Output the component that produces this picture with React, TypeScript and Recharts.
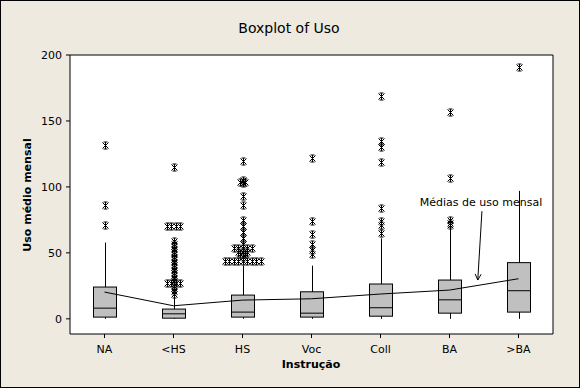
import React from 'react';
import { ComposedChart, Bar, Line, Scatter, XAxis, YAxis, ReferenceArea, ReferenceLine } from 'recharts';

const categories = ['NA', '<HS', 'HS', 'Voc', 'Coll', 'BA', '>BA'];
const whiskerLow = [0, 0, 0, 0, 0, 0, 0];
const q1 = [1.3, 0.5, 1.3, 1.3, 2, 4.3, 5.1];
const medians = [8.1, 3.8, 5.1, 4.3, 8.4, 14.4, 21.3];
const q3 = [24.1, 7.4, 18, 20.5, 26.4, 29.4, 42.6];
const whiskerHigh = [57.8, 16, 40.3, 40.3, 61, 69.4, 97];
const means = [20.3, 9.9, 14.2, 15.2, 18.8, 21.8, 30.4];

// outliers per category; repeated values are ties drawn side by side
const outliers = [
  [132, 86, 71],
  [115, 70, 70, 70, 70, 59, 57, 55, 53, 51, 49, 47, 45, 43, 41, 39, 37, 35, 33, 31, 29, 27, 27, 27, 27, 25, 23, 21, 19],
  [120, 105, 104, 104, 103, 93, 86, 75, 70, 66, 61, 57, 54, 54, 54, 54, 54, 51, 51, 51, 49, 49, 47, 44, 44, 44, 44, 44, 44, 44, 44, 44],
  [122, 74, 64, 57, 52, 49],
  [169, 135, 130, 119, 84, 74, 71, 65],
  [157, 107, 75, 73, 71],
  [191],
];

const yTicks = [0, 50, 100, 150, 200];
const annotationText = 'Médias de uso mensal';
const arrowFrom = { x: 5.47, y: 81.6 };
const arrowTo = { x: 5.41, y: 29.4 };

const rows = categories.map((cat, i) => ({
  cat,
  low: whiskerLow[i],
  q1: q1[i],
  med: medians[i],
  q3: q3[i],
  high: whiskerHigh[i],
  mean: means[i],
}));

const outlierPoints = outliers.flatMap((vals, i) =>
  vals.map((y, k) => {
    const count = vals.filter((v) => v === y).length;
    const before = vals.slice(0, k).filter((v) => v === y).length;
    return { x: i, y, tie: before - (count - 1) / 2 };
  })
);

const BoxShape = (props: any) => {
  const { x, y, width, height, payload } = props;
  const top = Math.min(y, y + height);
  const h = Math.abs(height);
  const { low, high } = payload;
  const pix = (v: number) => top + (h * (high - v)) / (high - low);
  const cx = Math.round(x + width / 2) + 0.5;
  const left = Math.round(x) + 0.5;
  const w = Math.round(width);
  return (
    <g>
      <line x1={cx} x2={cx} y1={pix(high)} y2={pix(low)} stroke="#000" />
      <rect x={left} y={pix(payload.q3)} width={w} height={pix(payload.q1) - pix(payload.q3)} fill="#C0C0C0" stroke="#000" />
      <line x1={left} x2={left + w} y1={pix(payload.med)} y2={pix(payload.med)} stroke="#000" />
    </g>
  );
};

const Star = (props: any) => {
  const { cx, cy, payload } = props;
  const x = Math.round(cx + payload.tie * 4.5) + 0.5;
  const y = Math.round(cy) + 0.5;
  return (
    <path
      d={`M${x},${y - 3.5}V${y + 3.5}M${x - 3},${y - 3}L${x + 3},${y + 3}M${x + 3},${y - 3}L${x - 3},${y + 3}M${x - 2},${y - 3.5}H${x + 2}M${x - 2},${y + 3.5}H${x + 2}`}
      stroke="#000"
      strokeWidth={1}
      fill="none"
    />
  );
};

const Arrow = (props: any) => {
  const { x1, y1, x2, y2 } = props;
  const dx = x2 - x1;
  const dy = y2 - y1;
  const len = Math.sqrt(dx * dx + dy * dy) || 1;
  const ux = dx / len;
  const uy = dy / len;
  const px = -uy;
  const py = ux;
  return (
    <g stroke="#000" strokeWidth={1} fill="none">
      <line x1={x1} y1={y1} x2={x2} y2={y2} />
      <path d={`M${x2 - ux * 6 + px * 3},${y2 - uy * 6 + py * 3}L${x2},${y2}L${x2 - ux * 6 - px * 3},${y2 - uy * 6 - py * 3}`} />
    </g>
  );
};

const font = '"DejaVu Sans", Verdana, sans-serif';
const tickStyle = { fontSize: 11, fill: '#000', fontFamily: font };

export default function App() {
  return (
    <div
      style={{
        position: 'absolute',
        left: 0,
        top: 0,
        width: 580,
        height: 388,
        background: '#EEEAE0',
        border: '1px solid #000',
        boxSizing: 'border-box',
        fontFamily: font,
      }}
    >
      <div style={{ position: 'absolute', left: 0, top: 0 }}>
        <ComposedChart width={580} height={388} data={rows} margin={{ top: 54, right: 28, bottom: 25, left: 29 }}>
          <XAxis
            xAxisId="cat"
            dataKey="cat"
            type="category"
            height={30}
            tickSize={4}
            tickMargin={7}
            axisLine={false}
            tickLine={{ stroke: '#000' }}
            tick={tickStyle}
            interval={0}
          />
          <XAxis xAxisId="n" dataKey="x" type="number" domain={[-0.5, 6.5]} allowDataOverflow hide />
          <YAxis
            type="number"
            domain={[-11.5, 200]}
            ticks={yTicks}
            allowDataOverflow
            width={40}
            tickSize={4}
            tickMargin={4}
            axisLine={false}
            tickLine={{ stroke: '#000' }}
            tick={tickStyle}
            interval={0}
          />
          <ReferenceArea
            xAxisId="n"
            x1={-0.5}
            x2={6.5}
            y1={-11.5}
            y2={200}
            fill="#fff"
            fillOpacity={1}
            stroke="#000"
            strokeOpacity={1}
            ifOverflow="visible"
          />
          <Bar
            xAxisId="cat"
            dataKey={(d: any) => [d.low, d.high]}
            barSize={23}
            shape={BoxShape}
            isAnimationActive={false}
          />
          <Line
            xAxisId="cat"
            dataKey="mean"
            type="linear"
            stroke="#000"
            strokeWidth={1}
            dot={false}
            activeDot={false}
            isAnimationActive={false}
          />
          <Scatter xAxisId="n" data={outlierPoints} dataKey="y" shape={Star} isAnimationActive={false} />
          <ReferenceLine
            xAxisId="n"
            segment={[arrowFrom, arrowTo]}
            shape={Arrow}
            ifOverflow="visible"
          />
        </ComposedChart>
      </div>
      <div
        style={{
          position: 'absolute',
          left: 188,
          width: 200,
          top: 18,
          textAlign: 'center',
          fontSize: 14,
          lineHeight: '18px',
          color: '#000',
        }}
      >
        Boxplot of Uso
      </div>
      <div
        style={{
          position: 'absolute',
          left: 26,
          top: 194,
          transform: 'translate(-50%, -50%) rotate(-90deg)',
          fontSize: 11,
          fontWeight: 'bold',
          whiteSpace: 'nowrap',
          color: '#000',
        }}
      >
        Uso médio mensal
      </div>
      <div
        style={{
          position: 'absolute',
          left: 230,
          width: 160,
          top: 357,
          textAlign: 'center',
          fontSize: 11,
          lineHeight: '14px',
          fontWeight: 'bold',
          color: '#000',
        }}
      >
        Instrução
      </div>
      <div
        style={{
          position: 'absolute',
          left: 400,
          width: 160,
          top: 195,
          textAlign: 'center',
          fontSize: 11,
          lineHeight: '13px',
          color: '#000',
          whiteSpace: 'pre',
        }}
      >
        {annotationText}
      </div>
    </div>
  );
}
